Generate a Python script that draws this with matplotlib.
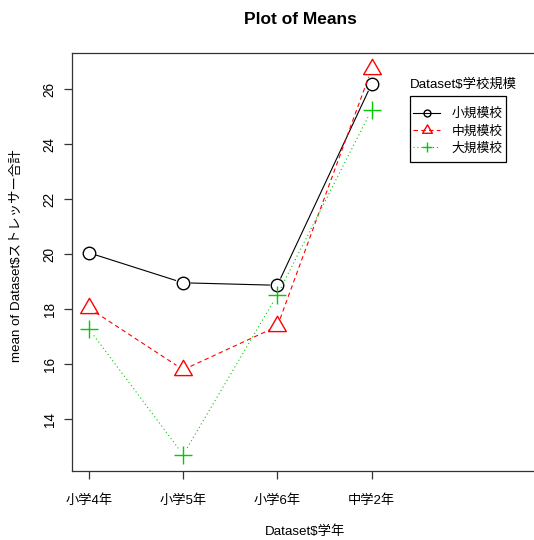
import numpy as np
import matplotlib
matplotlib.use('Agg')
import matplotlib.pyplot as plt
from matplotlib.path import Path
from matplotlib.lines import Line2D
from matplotlib.patches import Rectangle

plt.rcParams['font.family'] = ['Liberation Sans', 'Noto Sans CJK JP', 'DejaVu Sans']

# data
grades = ['小学4年', '小学5年', '小学6年', '中学2年']
groups = ['小規模校', '中規模校', '大規模校']
small = [20.05, 18.96, 18.87, 26.18]
medium = [18.04, 15.80, 17.38, 26.72]
large = [17.28, 12.71, 18.52, 25.24]

# R-style triangle (centroid at origin)
tri = Path([(0, 1), (-0.866, -0.5), (0.866, -0.5), (0, 1)],
           [Path.MOVETO, Path.LINETO, Path.LINETO, Path.CLOSEPOLY])

styles = [
    dict(color='black', dashes=None, marker='o', ms=9, lw_m=1.0),
    dict(color='#FF0000', dashes=(4, 3), marker=tri, ms=14.7, lw_m=1.0),
    dict(color='#00CD00', dashes=(1, 2.5), marker='+', ms=13.5, lw_m=1.0),
]
series = [small, medium, large]

W, H = 534, 540
fig = plt.figure(figsize=(W / 100, H / 100), dpi=100)
left, right, top, bottom = 72, 535, 52.5, 471
ax = fig.add_axes([left / W, 1 - bottom / H, (right - left) / W, (bottom - top) / H])

x = np.arange(1, len(grades) + 1)
ax.set_xlim(0.82, 0.82 + (right - left) / 94.2)
ax.set_ylim(12.12, 27.33)

fig.canvas.draw()
gap = 8.0  # px gap around points (type="b")
for vals, st in zip(series, styles):
    pts = ax.transData.transform(np.column_stack([x, vals]))
    for i in range(len(pts) - 1):
        p0, p1 = pts[i], pts[i + 1]
        d = p1 - p0
        L = np.hypot(*d)
        if L <= 2 * gap:
            continue
        u = d / L
        seg = ax.transData.inverted().transform(np.array([p0 + u * gap, p1 - u * gap]))
        line, = ax.plot(seg[:, 0], seg[:, 1], color=st['color'], lw=0.8)
        if st['dashes'] is not None:
            line.set_dashes(st['dashes'])
    ax.plot(x, vals, ls='none', marker=st['marker'], ms=st['ms'],
            mfc='none', mec=st['color'], mew=st['lw_m'])

ax.spines['right'].set_visible(False)
for s in ['left', 'top', 'bottom']:
    ax.spines[s].set_color('#333333')
    ax.spines[s].set_linewidth(0.9)

ax.set_xticks(x)
ax.set_xticklabels(grades, fontsize=9.5)
ax.set_yticks([14, 16, 18, 20, 22, 24, 26])
ax.set_yticklabels(['14', '16', '18', '20', '22', '24', '26'], rotation=90,
                   va='center', fontsize=9.8)
ax.tick_params(axis='x', length=5.5, width=0.9, color='#333333', pad=11)
ax.tick_params(axis='y', length=6, width=0.9, color='#333333', pad=5)

fig.text(300 / W, 1 - 19 / H, 'Plot of Means', ha='center', va='center',
         fontsize=12.5, fontweight='bold')
fig.text(305 / W, 1 - 531.5 / H, 'Dataset$学年', ha='center', va='center', fontsize=9.6)
fig.text(17 / W, 1 - 256 / H, 'mean of Dataset$ストレッサー合計', ha='center', va='center',
         rotation=90, fontsize=9.6)

# legend: title above, box drawn separately (R style)
fig.text(410 / W, 1 - 85 / H, 'Dataset$学校規模', ha='left', va='center', fontsize=9.6)
fig.add_artist(Rectangle((410 / W, 1 - 162 / H), 96 / W, 66 / H,
                         transform=fig.transFigure, fill=True, facecolor='white',
                         edgecolor='black', lw=0.9, zorder=4))
handles = []
for st in styles:
    h = Line2D([0], [0], color=st['color'], lw=0.8, marker=st['marker'],
               ms=st['ms'] * 0.55, mfc='none', mec=st['color'])
    if st['dashes'] is not None:
        h.set_dashes(st['dashes'])
    handles.append(h)
leg = fig.legend(handles, groups, loc='center',
                 bbox_to_anchor=(458 / W, 1 - 131.5 / H),
                 frameon=False, fontsize=9.2,
                 handlelength=2.1, handletextpad=0.9, borderpad=0,
                 labelspacing=0.4, borderaxespad=0)
leg.set_zorder(5)

fig.savefig('out.png', dpi=100)
